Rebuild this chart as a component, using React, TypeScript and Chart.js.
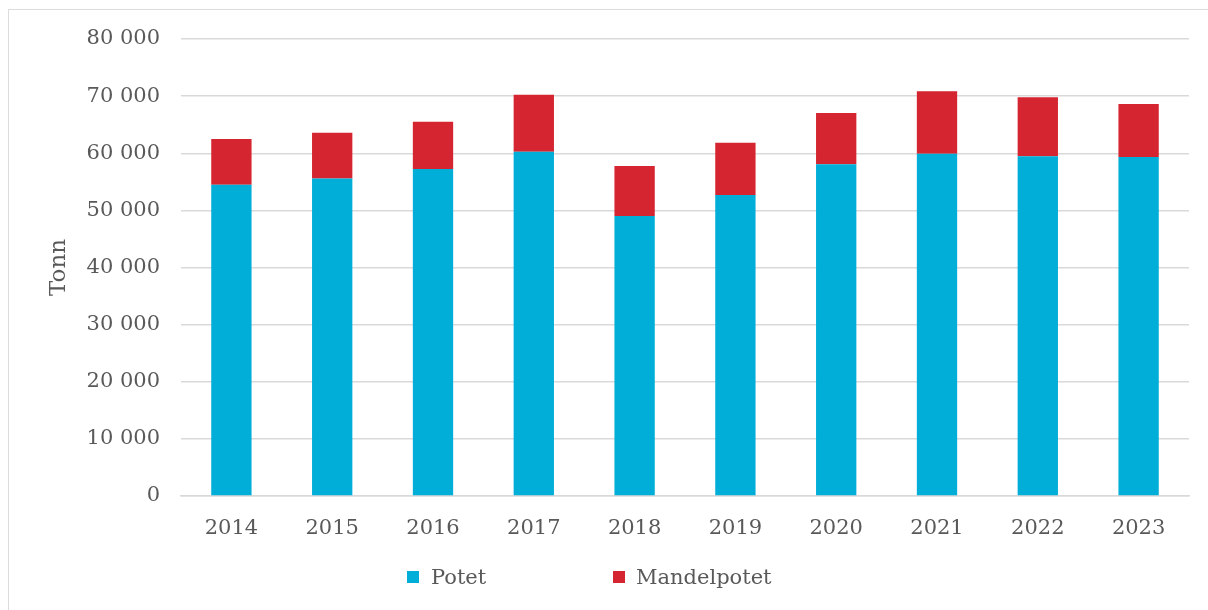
import React, { useEffect, useRef } from "react";
import { Chart, registerables } from "chart.js";

Chart.register(...registerables);

const years = ["2014", "2015", "2016", "2017", "2018", "2019", "2020", "2021", "2022", "2023"];
const potet = [54500, 55600, 57250, 60270, 49020, 52700, 58070, 59930, 59460, 59340];
const mandelpotet = [8000, 8000, 8270, 9980, 8750, 9150, 8980, 10910, 10330, 9280];
const yTicks = [0, 10000, 20000, 30000, 40000, 50000, 60000, 70000, 80000];
const seriesNames = ["Potet", "Mandelpotet"];
const colors = ["#00AED8", "#D42530"];

const FONT = "'DejaVu Serif', serif";
const TEXT = "#595959";
const GRID = "#d9d9d9";

function fmt(v: number): string {
  const s = String(Math.round(v));
  return s.replace(/\B(?=(\d{3})+(?!\d))/g, " ");
}

export default function App() {
  const ref = useRef<HTMLCanvasElement | null>(null);

  useEffect(() => {
    if (!ref.current) return;
    const chart = new Chart(ref.current, {
      type: "bar",
      data: {
        labels: years,
        datasets: [
          { label: seriesNames[0], data: potet, backgroundColor: colors[0], barPercentage: 0.4, categoryPercentage: 1 },
          { label: seriesNames[1], data: mandelpotet, backgroundColor: colors[1], barPercentage: 0.4, categoryPercentage: 1 },
        ],
      },
      options: {
        animation: false,
        responsive: false,
        maintainAspectRatio: false,
        layout: { padding: { left: 0, right: 19, top: 39, bottom: 0 } },
        plugins: {
          legend: { display: false },
          tooltip: { enabled: false },
        },
        scales: {
          x: {
            stacked: true,
            grid: { display: false, drawTicks: false },
            border: { display: true, color: GRID, width: 1.5 },
            ticks: { color: TEXT, font: { family: FONT, size: 21 }, padding: 20 },
            afterFit: (s: any) => { s.height = 114; },
          },
          y: {
            stacked: true,
            min: 0,
            max: 80000,
            afterBuildTicks: (s: any) => { s.ticks = yTicks.map((v) => ({ value: v })); },
            grid: { color: GRID, lineWidth: 1.5, drawTicks: false },
            border: { display: false },
            ticks: { color: TEXT, font: { family: FONT, size: 21 }, padding: 21, callback: (v: any) => fmt(Number(v)) },
            title: { display: true, text: "Tonn", color: TEXT, font: { family: FONT, size: 23 }, padding: { top: 45, bottom: 0 } },
            afterFit: (s: any) => { s.width = 181; },
          },
        },
      },
    });
    return () => chart.destroy();
  }, []);

  const legendItem = (i: number, boxLeft: number, textLeft: number) => (
    <React.Fragment key={i}>
      <span style={{ position: "absolute", left: boxLeft, top: 571, width: 12, height: 12, background: colors[i] }} />
      <span style={{ position: "absolute", left: textLeft, top: 563, fontFamily: FONT, fontSize: 21, lineHeight: "28px", color: TEXT, whiteSpace: "nowrap" }}>{seriesNames[i]}</span>
    </React.Fragment>
  );

  return (
    <div style={{ position: "absolute", left: 0, top: 0, width: 1208, height: 610, overflow: "hidden" }}>
      <div style={{ position: "absolute", left: 8, top: 9, width: 1220, height: 620, border: "1.5px solid #dcdcdc", boxSizing: "border-box" }} />
      <canvas ref={ref} width={1208} height={610} style={{ position: "absolute", left: 0, top: 0 }} />
      {legendItem(0, 407, 431)}
      {legendItem(1, 613, 636)}
    </div>
  );
}
